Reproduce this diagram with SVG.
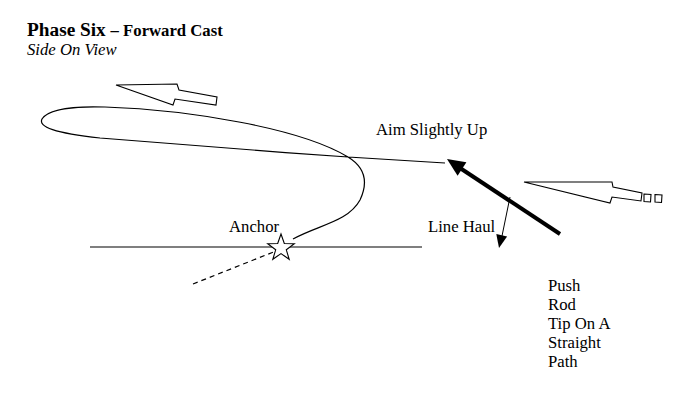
<svg xmlns="http://www.w3.org/2000/svg" width="691" height="406" viewBox="0 0 691 406">
<style>
  text { font-family: "Liberation Serif", "Times New Roman", serif; fill: #000; }
  .body { font-size: 16.7px; }
  .ln { fill: none; stroke: #000; stroke-width: 1.2; }
  .hollow { fill: #fff; stroke: #000; stroke-width: 1.1; stroke-linejoin: miter; }
  .head { fill: #000; stroke: none; }
</style>
<rect width="691" height="406" fill="#fff"/>
<g id="title">
  <text x="27" y="36" font-weight="bold" font-size="19.3">Phase Six <tspan font-size="16.7">– Forward Cast</tspan></text>
  <text x="27" y="55" font-style="italic" class="body">Side On View</text>
</g>
<g id="ground">
  <line class="ln" x1="90" y1="247" x2="422" y2="247"/>
</g>
<g id="fly-line">
  <path class="ln" d="M445,163 L348,157 C260,151 160,143 100,138 C55,133 38,127 42,119 C48,109 75,106 105,107 C190,110 300,128 348,157 C366,168 368,183 360,200 C348,222 318,225 293,239"/>
  <line class="ln" x1="193" y1="284" x2="276" y2="251" stroke-dasharray="5,4"/>
</g>
<g id="anchor">
  <polygon class="hollow" points="281,234 284.3,243.5 294.3,243.7 286.3,249.8 289.2,259.3 281,253.6 272.8,259.3 275.7,249.8 267.7,243.7 277.7,243.5"/>
  <text x="229" y="232" class="body">Anchor</text>
</g>
<g id="back-arrow">
  <polygon class="hollow" points="116,85 177,84 179,90 217,97 216,105 175,99 173,105"/>
</g>
<g id="forward-arrow">
  <polygon class="hollow" points="524,182 612,182 613,187 642,193 641,201 612,197 610,203"/>
  <polygon class="hollow" points="644,194 651,194.5 650.5,202 644,201.5"/>
  <polygon class="hollow" points="655,194.5 662,195 661.5,202.5 655,202"/>
</g>
<g id="connectors">
  <line x1="560" y1="234" x2="460" y2="168" stroke="#000" stroke-width="4"/>
  <polygon class="head" points="447,159 466.4,162.3 457.6,175.7"/>
  <line x1="510" y1="197" x2="502" y2="236" stroke="#000" stroke-width="1"/>
  <polygon class="head" points="499,248 507.1,236.5 496.3,234.1"/>
</g>
<g id="labels">
  <text x="376" y="135" class="body">Aim Slightly Up</text>
  <text x="428" y="232" class="body">Line Haul</text>
  <text class="body">
    <tspan x="548" y="291">Push</tspan>
    <tspan x="548" y="310">Rod</tspan>
    <tspan x="548" y="329">Tip On A</tspan>
    <tspan x="548" y="348">Straight</tspan>
    <tspan x="548" y="367">Path</tspan>
  </text>
</g>
</svg>
